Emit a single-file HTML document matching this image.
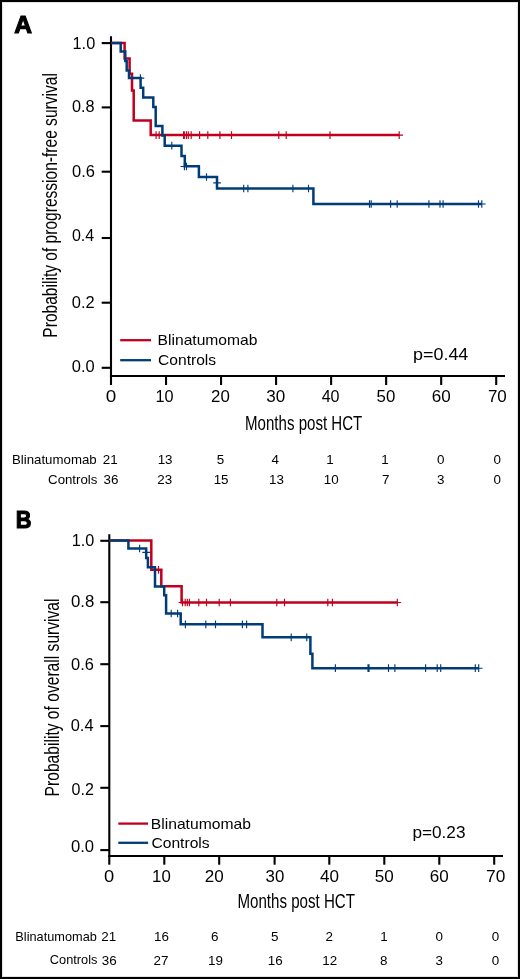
<!DOCTYPE html>
<html><head><meta charset="utf-8"><style>
html,body{margin:0;padding:0;background:#fff;}
body{width:520px;height:979px;overflow:hidden;}
svg{display:block;will-change:transform;}
text{font-family:"Liberation Sans", sans-serif;fill:#000;}
</style></head><body>
<svg width="520" height="979" viewBox="0 0 520 979">
<rect x="0" y="0" width="520" height="979" fill="#fff"/>
<path d="M111.0,36.2V377.05" stroke="#000" stroke-width="2.1" fill="none"/>
<path d="M109.95,376.0H505.0" stroke="#000" stroke-width="2.1" fill="none"/>
<path d="M101.7,43.1H111.0" stroke="#000" stroke-width="2.1"/>
<path d="M101.7,107.4H111.0" stroke="#000" stroke-width="2.1"/>
<path d="M101.7,171.7H111.0" stroke="#000" stroke-width="2.1"/>
<path d="M101.7,238.0H111.0" stroke="#000" stroke-width="2.1"/>
<path d="M101.7,302.7H111.0" stroke="#000" stroke-width="2.1"/>
<path d="M101.7,367.8H111.0" stroke="#000" stroke-width="2.1"/>
<path d="M111.0,376.0V385.0" stroke="#000" stroke-width="2.1"/>
<path d="M166.03,376.0V385.0" stroke="#000" stroke-width="2.1"/>
<path d="M221.06,376.0V385.0" stroke="#000" stroke-width="2.1"/>
<path d="M276.09,376.0V385.0" stroke="#000" stroke-width="2.1"/>
<path d="M331.12,376.0V385.0" stroke="#000" stroke-width="2.1"/>
<path d="M386.15,376.0V385.0" stroke="#000" stroke-width="2.1"/>
<path d="M441.18,376.0V385.0" stroke="#000" stroke-width="2.1"/>
<path d="M496.21,376.0V385.0" stroke="#000" stroke-width="2.1"/>
<path d="M109.3,534.2V857.05" stroke="#000" stroke-width="2.1" fill="none"/>
<path d="M108.25,856.0H503.0" stroke="#000" stroke-width="2.1" fill="none"/>
<path d="M100.3,540.8H109.3" stroke="#000" stroke-width="2.1"/>
<path d="M100.3,602.2H109.3" stroke="#000" stroke-width="2.1"/>
<path d="M100.3,664.2H109.3" stroke="#000" stroke-width="2.1"/>
<path d="M100.3,726.1H109.3" stroke="#000" stroke-width="2.1"/>
<path d="M100.3,787.8H109.3" stroke="#000" stroke-width="2.1"/>
<path d="M100.3,850.1H109.3" stroke="#000" stroke-width="2.1"/>
<path d="M109.3,856.0V864.7" stroke="#000" stroke-width="2.1"/>
<path d="M164.3,856.0V864.7" stroke="#000" stroke-width="2.1"/>
<path d="M219.2,856.0V864.7" stroke="#000" stroke-width="2.1"/>
<path d="M274.6,856.0V864.7" stroke="#000" stroke-width="2.1"/>
<path d="M329.3,856.0V864.7" stroke="#000" stroke-width="2.1"/>
<path d="M384.3,856.0V864.7" stroke="#000" stroke-width="2.1"/>
<path d="M439.3,856.0V864.7" stroke="#000" stroke-width="2.1"/>
<path d="M494.2,856.0V864.7" stroke="#000" stroke-width="2.1"/>
<path d="M111.00,43.10H124.60V58.60H129.60V73.80H132.00V90.60H133.70V120.40H150.70V135.10H399.20" stroke="#c0001f" stroke-width="2.5" fill="none"/>
<path d="M156.10,131.25V138.95M152.25,135.10H159.95M159.20,131.25V138.95M155.35,135.10H163.05M183.60,131.25V138.95M179.75,135.10H187.45M184.30,131.25V138.95M180.45,135.10H188.15M186.40,131.25V138.95M182.55,135.10H190.25M188.30,131.25V138.95M184.45,135.10H192.15M191.20,131.25V138.95M187.35,135.10H195.05M199.60,131.25V138.95M195.75,135.10H203.45M207.80,131.25V138.95M203.95,135.10H211.65M219.90,131.25V138.95M216.05,135.10H223.75M231.50,131.25V138.95M227.65,135.10H235.35M278.80,131.25V138.95M274.95,135.10H282.65M286.20,131.25V138.95M282.35,135.10H290.05M330.00,131.25V138.95M326.15,135.10H333.85M399.20,131.25V138.95M395.35,135.10H403.05" stroke="#c0001f" stroke-width="1.15" fill="none"/>
<path d="M111.00,43.10H120.70V51.60H125.30V61.00H126.70V70.40H129.00V78.10H140.60V87.80H143.20V97.50H153.30V106.90H155.70V126.10H162.40V135.50H164.70V145.70H181.50V156.00H184.80V166.20H198.90V177.00H217.00V188.50H313.40V204.00H481.80" stroke="#003d78" stroke-width="2.5" fill="none"/>
<path d="M140.40,74.25V81.95M136.55,78.10H144.25M171.80,141.85V149.55M167.95,145.70H175.65M184.40,162.65V170.35M180.55,166.50H188.25M186.50,162.65V170.35M182.65,166.50H190.35M206.50,173.15V180.85M202.65,177.00H210.35M217.10,179.05V186.75M213.25,182.90H220.95M243.70,184.65V192.35M239.85,188.50H247.55M247.90,184.65V192.35M244.05,188.50H251.75M292.90,184.65V192.35M289.05,188.50H296.75M308.50,184.65V192.35M304.65,188.50H312.35M369.50,200.15V207.85M365.65,204.00H373.35M371.20,200.15V207.85M367.35,204.00H375.05M390.60,200.15V207.85M386.75,204.00H394.45M397.20,200.15V207.85M393.35,204.00H401.05M428.90,200.15V207.85M425.05,204.00H432.75M440.00,200.15V207.85M436.15,204.00H443.85M443.10,200.15V207.85M439.25,204.00H446.95M478.50,200.15V207.85M474.65,204.00H482.35M481.80,200.15V207.85M477.95,204.00H485.65" stroke="#003d78" stroke-width="1.15" fill="none"/>
<path d="M120.2,340.2H151.0" stroke="#c0001f" stroke-width="2.3"/>
<path d="M120.2,360.2H151.0" stroke="#003d78" stroke-width="2.3"/>
<path d="M109.30,540.50H151.30V569.80H161.30V586.20H181.60V602.50H397.30" stroke="#c0001f" stroke-width="2.5" fill="none"/>
<path d="M158.50,565.95V573.65M154.65,569.80H162.35M182.50,598.65V606.35M178.65,602.50H186.35M185.20,598.65V606.35M181.35,602.50H189.05M187.30,598.65V606.35M183.45,602.50H191.15M189.40,598.65V606.35M185.55,602.50H193.25M198.80,598.65V606.35M194.95,602.50H202.65M206.50,598.65V606.35M202.65,602.50H210.35M219.20,598.65V606.35M215.35,602.50H223.05M230.40,598.65V606.35M226.55,602.50H234.25M276.80,598.65V606.35M272.95,602.50H280.65M284.50,598.65V606.35M280.65,602.50H288.35M327.80,598.65V606.35M323.95,602.50H331.65M332.40,598.65V606.35M328.55,602.50H336.25M397.30,598.65V606.35M393.45,602.50H401.15" stroke="#c0001f" stroke-width="1.15" fill="none"/>
<path d="M109.30,540.50H128.40V548.50H146.20V557.90H147.90V567.20H155.00V586.50H164.20V595.20H166.10V613.50H180.70V624.30H262.50V637.30H310.40V653.70H312.40V668.20H478.70" stroke="#003d78" stroke-width="2.5" fill="none"/>
<path d="M139.60,544.65V552.35M135.75,548.50H143.45M146.20,548.55V556.25M142.35,552.40H150.05M171.20,609.65V617.35M167.35,613.50H175.05M177.60,609.65V617.35M173.75,613.50H181.45M185.40,620.45V628.15M181.55,624.30H189.25M205.80,620.45V628.15M201.95,624.30H209.65M215.50,620.45V628.15M211.65,624.30H219.35M242.40,620.45V628.15M238.55,624.30H246.25M246.60,620.45V628.15M242.75,624.30H250.45M291.20,633.45V641.15M287.35,637.30H295.05M306.80,633.45V641.15M302.95,637.30H310.65M335.40,664.35V672.05M331.55,668.20H339.25M368.00,664.35V672.05M364.15,668.20H371.85M369.00,664.35V672.05M365.15,668.20H372.85M388.50,664.35V672.05M384.65,668.20H392.35M394.90,664.35V672.05M391.05,668.20H398.75M425.60,664.35V672.05M421.75,668.20H429.45M437.20,664.35V672.05M433.35,668.20H441.05M440.70,664.35V672.05M436.85,668.20H444.55M475.30,664.35V672.05M471.45,668.20H479.15M478.70,664.35V672.05M474.85,668.20H482.55" stroke="#003d78" stroke-width="1.15" fill="none"/>
<path d="M118.3,823.6H148.1" stroke="#c0001f" stroke-width="2.3"/>
<path d="M118.3,842.8H148.1" stroke="#003d78" stroke-width="2.3"/>
<text x="14.30" y="32.60" font-size="24.1" font-weight="bold" stroke="#000" stroke-width="1.1" stroke-linejoin="miter" textLength="17.75" lengthAdjust="spacingAndGlyphs">A</text>
<text x="95.22" y="48.93" font-size="16.4" text-anchor="end" textLength="22.66" lengthAdjust="spacingAndGlyphs">1.0</text>
<text x="94.62" y="111.63" font-size="16.4" text-anchor="end" textLength="22.62" lengthAdjust="spacingAndGlyphs">0.8</text>
<text x="95.03" y="176.78" font-size="16.4" text-anchor="end" textLength="22.94" lengthAdjust="spacingAndGlyphs">0.6</text>
<text x="94.25" y="241.37" font-size="16.4" text-anchor="end" textLength="22.34" lengthAdjust="spacingAndGlyphs">0.4</text>
<text x="94.75" y="307.73" font-size="16.4" text-anchor="end" textLength="22.89" lengthAdjust="spacingAndGlyphs">0.2</text>
<text x="94.78" y="372.22" font-size="16.4" text-anchor="end" textLength="22.94" lengthAdjust="spacingAndGlyphs">0.0</text>
<text x="110.90" y="402.27" font-size="16.4" text-anchor="middle" textLength="10.51" lengthAdjust="spacingAndGlyphs">0</text>
<text x="164.62" y="402.27" font-size="16.4" text-anchor="middle" textLength="18.09" lengthAdjust="spacingAndGlyphs">10</text>
<text x="220.48" y="402.27" font-size="16.4" text-anchor="middle" textLength="18.76" lengthAdjust="spacingAndGlyphs">20</text>
<text x="275.83" y="402.27" font-size="16.4" text-anchor="middle" textLength="18.99" lengthAdjust="spacingAndGlyphs">30</text>
<text x="330.62" y="402.27" font-size="16.4" text-anchor="middle" textLength="17.91" lengthAdjust="spacingAndGlyphs">40</text>
<text x="385.90" y="402.27" font-size="16.4" text-anchor="middle" textLength="18.71" lengthAdjust="spacingAndGlyphs">50</text>
<text x="441.17" y="402.27" font-size="16.4" text-anchor="middle" textLength="18.98" lengthAdjust="spacingAndGlyphs">60</text>
<text x="497.38" y="402.27" font-size="16.4" text-anchor="middle" textLength="18.87" lengthAdjust="spacingAndGlyphs">70</text>
<text x="245.07" y="430.10" font-size="20" textLength="117.17" lengthAdjust="spacingAndGlyphs">Months post HCT</text>
<text transform="translate(57.20,337.63) rotate(-90)" font-size="20" textLength="264.47" lengthAdjust="spacingAndGlyphs">Probability of progression-free survival</text>
<text x="157.58" y="345.30" font-size="15" textLength="99.89" lengthAdjust="spacingAndGlyphs">Blinatumomab</text>
<text x="158.05" y="365.00" font-size="15" textLength="58.04" lengthAdjust="spacingAndGlyphs">Controls</text>
<text x="413.02" y="359.70" font-size="16.5" textLength="55.30" lengthAdjust="spacingAndGlyphs">p=0.44</text>
<text x="96.70" y="463.70" font-size="13.4" text-anchor="end" textLength="84.73" lengthAdjust="spacingAndGlyphs">Blinatumomab</text>
<text x="97.40" y="483.60" font-size="13.4" text-anchor="end" textLength="49.33" lengthAdjust="spacingAndGlyphs">Controls</text>
<text x="110.20" y="463.80" font-size="13.4" text-anchor="middle">21</text>
<text x="111.00" y="484.20" font-size="13.4" text-anchor="middle">36</text>
<text x="165.10" y="463.80" font-size="13.4" text-anchor="middle">13</text>
<text x="164.80" y="484.20" font-size="13.4" text-anchor="middle">23</text>
<text x="220.40" y="463.80" font-size="13.4" text-anchor="middle">5</text>
<text x="221.10" y="484.20" font-size="13.4" text-anchor="middle">15</text>
<text x="275.20" y="463.80" font-size="13.4" text-anchor="middle">4</text>
<text x="276.50" y="484.20" font-size="13.4" text-anchor="middle">13</text>
<text x="330.00" y="463.80" font-size="13.4" text-anchor="middle">1</text>
<text x="331.20" y="484.20" font-size="13.4" text-anchor="middle">10</text>
<text x="385.00" y="463.80" font-size="13.4" text-anchor="middle">1</text>
<text x="385.80" y="484.20" font-size="13.4" text-anchor="middle">7</text>
<text x="440.80" y="463.80" font-size="13.4" text-anchor="middle">0</text>
<text x="440.80" y="484.20" font-size="13.4" text-anchor="middle">3</text>
<text x="497.30" y="463.80" font-size="13.4" text-anchor="middle">0</text>
<text x="497.30" y="484.20" font-size="13.4" text-anchor="middle">0</text>
<text x="15.75" y="527.95" font-size="24.1" font-weight="bold" stroke="#000" stroke-width="1.1" stroke-linejoin="miter" textLength="15.73" lengthAdjust="spacingAndGlyphs">B</text>
<text x="94.28" y="546.42" font-size="16.4" text-anchor="end" textLength="22.55" lengthAdjust="spacingAndGlyphs">1.0</text>
<text x="94.38" y="606.92" font-size="16.4" text-anchor="end" textLength="23.37" lengthAdjust="spacingAndGlyphs">0.8</text>
<text x="93.83" y="669.68" font-size="16.4" text-anchor="end" textLength="22.83" lengthAdjust="spacingAndGlyphs">0.6</text>
<text x="93.55" y="731.33" font-size="16.4" text-anchor="end" textLength="22.87" lengthAdjust="spacingAndGlyphs">0.4</text>
<text x="93.88" y="795.47" font-size="16.4" text-anchor="end" textLength="22.31" lengthAdjust="spacingAndGlyphs">0.2</text>
<text x="94.12" y="852.37" font-size="16.4" text-anchor="end" textLength="23.15" lengthAdjust="spacingAndGlyphs">0.0</text>
<text x="109.18" y="882.23" font-size="16.4" text-anchor="middle" textLength="10.19" lengthAdjust="spacingAndGlyphs">0</text>
<text x="161.40" y="882.23" font-size="16.4" text-anchor="middle" textLength="18.71" lengthAdjust="spacingAndGlyphs">10</text>
<text x="214.27" y="882.23" font-size="16.4" text-anchor="middle" textLength="18.97" lengthAdjust="spacingAndGlyphs">20</text>
<text x="274.90" y="882.23" font-size="16.4" text-anchor="middle" textLength="18.71" lengthAdjust="spacingAndGlyphs">30</text>
<text x="329.55" y="882.23" font-size="16.4" text-anchor="middle" textLength="19.02" lengthAdjust="spacingAndGlyphs">40</text>
<text x="384.17" y="882.23" font-size="16.4" text-anchor="middle" textLength="18.99" lengthAdjust="spacingAndGlyphs">50</text>
<text x="439.33" y="882.23" font-size="16.4" text-anchor="middle" textLength="18.97" lengthAdjust="spacingAndGlyphs">60</text>
<text x="495.70" y="882.23" font-size="16.4" text-anchor="middle" textLength="19.26" lengthAdjust="spacingAndGlyphs">70</text>
<text x="237.50" y="907.85" font-size="20" textLength="117.43" lengthAdjust="spacingAndGlyphs">Months post HCT</text>
<text transform="translate(58.50,796.40) rotate(-90)" font-size="20" textLength="197.93" lengthAdjust="spacingAndGlyphs">Probability of overall survival</text>
<text x="150.77" y="828.70" font-size="15" textLength="100.20" lengthAdjust="spacingAndGlyphs">Blinatumomab</text>
<text x="151.43" y="847.70" font-size="15" textLength="58.19" lengthAdjust="spacingAndGlyphs">Controls</text>
<text x="412.43" y="838.32" font-size="15.8" textLength="53.02" lengthAdjust="spacingAndGlyphs">p=0.23</text>
<text x="96.83" y="940.60" font-size="13.4" text-anchor="end" textLength="81.48" lengthAdjust="spacingAndGlyphs">Blinatumomab</text>
<text x="97.42" y="964.20" font-size="13.4" text-anchor="end" textLength="47.58" lengthAdjust="spacingAndGlyphs">Controls</text>
<text x="108.80" y="940.90" font-size="13.4" text-anchor="middle">21</text>
<text x="109.20" y="964.50" font-size="13.4" text-anchor="middle">36</text>
<text x="161.40" y="940.90" font-size="13.4" text-anchor="middle">16</text>
<text x="161.00" y="964.50" font-size="13.4" text-anchor="middle">27</text>
<text x="214.70" y="940.90" font-size="13.4" text-anchor="middle">6</text>
<text x="215.40" y="964.50" font-size="13.4" text-anchor="middle">19</text>
<text x="274.80" y="940.90" font-size="13.4" text-anchor="middle">5</text>
<text x="275.30" y="964.50" font-size="13.4" text-anchor="middle">16</text>
<text x="329.20" y="940.90" font-size="13.4" text-anchor="middle">2</text>
<text x="329.70" y="964.50" font-size="13.4" text-anchor="middle">12</text>
<text x="384.00" y="940.90" font-size="13.4" text-anchor="middle">1</text>
<text x="383.80" y="964.50" font-size="13.4" text-anchor="middle">8</text>
<text x="439.20" y="940.90" font-size="13.4" text-anchor="middle">0</text>
<text x="439.20" y="964.50" font-size="13.4" text-anchor="middle">3</text>
<text x="495.40" y="940.90" font-size="13.4" text-anchor="middle">0</text>
<text x="495.40" y="964.50" font-size="13.4" text-anchor="middle">0</text>
<rect x="2.5" y="2.5" width="515" height="974" fill="none" stroke="#e4e4e4" stroke-width="1"/>
<rect x="1" y="1" width="518" height="977" fill="none" stroke="#000" stroke-width="2"/>
</svg>
</body></html>
